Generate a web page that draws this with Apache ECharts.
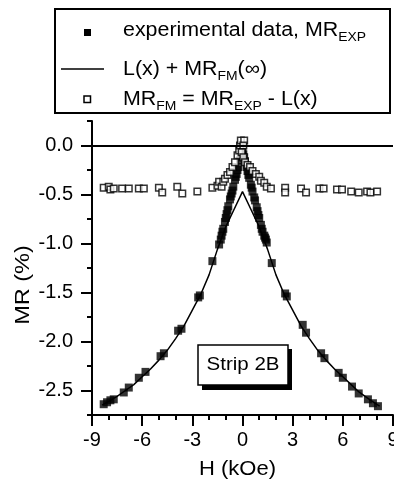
<!DOCTYPE html>
<html><head><meta charset="utf-8">
<script src="https://cdn.jsdelivr.net/npm/echarts@6/dist/echarts.min.js"></script>
<style>html,body{margin:0;padding:0;background:#fff}#c{width:394px;height:485px}</style>
</head><body><div id="c"></div>
<script>
// Experimental data MR_EXP (filled squares)
const expH  = [-8.3,-8.1,-7.9,-7.7,-7.1,-6.8,-6.2,-5.8,-4.9,-4.7,-3.85,-3.65,-2.65,-2.55,-1.8,-1.4,-1.3,-1.25,-1.2,-1.15,-1.05,-1.0,-0.95,-0.9,-0.85,-0.75,-0.7,-0.65,-0.6,-0.55,-0.45,-0.4,-0.35,-0.3,-0.25,-0.15,-0.1,-0.05,0.0,0.05,0.1,0.15,0.25,0.3,0.35,0.4,0.5,0.55,0.6,0.7,0.75,0.85,0.9,0.95,1.0,1.1,1.15,1.2,1.3,1.35,1.4,1.45,1.75,2.55,2.65,3.6,3.8,4.7,4.9,5.75,6.0,6.55,6.95,7.5,7.8,8.1];
const expMR = [-2.64,-2.62,-2.60,-2.59,-2.52,-2.47,-2.37,-2.31,-2.15,-2.12,-1.89,-1.87,-1.55,-1.53,-1.18,-1.01,-0.96,-0.92,-0.88,-0.85,-0.78,-0.74,-0.70,-0.66,-0.62,-0.55,-0.52,-0.49,-0.46,-0.42,-0.35,-0.32,-0.29,-0.25,-0.22,-0.15,-0.12,-0.09,-0.06,-0.09,-0.12,-0.16,-0.22,-0.26,-0.30,-0.33,-0.40,-0.43,-0.47,-0.53,-0.56,-0.63,-0.67,-0.71,-0.74,-0.81,-0.85,-0.88,-0.92,-0.94,-0.96,-0.99,-1.20,-1.51,-1.54,-1.83,-1.91,-2.12,-2.17,-2.32,-2.37,-2.46,-2.53,-2.59,-2.63,-2.66];
// Fit L(x) + MR_FM(inf) (solid line)
const lineH  = [-8.4,-8,-7.5,-7,-6.5,-6,-5.5,-5,-4.5,-4,-3.5,-3,-2.5,-2,-1.5,-1,-0.5,0,0.5,1,1.5,2,2.5,3,3.5,4,4.5,5,5.5,6,6.5,7,7.5,8,8.2];
const lineMR = [-2.65,-2.61,-2.56,-2.50,-2.44,-2.36,-2.28,-2.19,-2.09,-1.97,-1.84,-1.68,-1.52,-1.32,-1.06,-0.83,-0.65,-0.47,-0.65,-0.83,-1.06,-1.32,-1.52,-1.68,-1.84,-1.97,-2.09,-2.19,-2.28,-2.36,-2.44,-2.52,-2.58,-2.64,-2.66];
// MR_FM = MR_EXP - L(x) (open squares)
const fmH  = [-8.3,-8.0,-7.9,-7.7,-7.2,-6.8,-6.2,-5.9,-5.0,-4.8,-3.9,-3.6,-2.7,-1.8,-1.5,-1.4,-1.25,-1.15,-1.05,-0.9,-0.75,-0.6,-0.45,-0.3,-0.2,-0.15,-0.1,0.1,0.05,-0.05,0.05,0.15,0.3,0.45,0.6,0.8,1.0,1.1,1.3,1.45,1.7,2.55,2.55,3.5,3.8,4.6,4.85,5.65,5.95,6.5,6.95,7.45,7.65,8.05];
const fmMR = [-0.43,-0.42,-0.45,-0.44,-0.44,-0.44,-0.44,-0.44,-0.43,-0.48,-0.42,-0.49,-0.47,-0.43,-0.41,-0.37,-0.42,-0.37,-0.34,-0.30,-0.27,-0.22,-0.17,-0.10,-0.05,0.0,0.05,0.05,0.0,-0.07,-0.12,-0.17,-0.20,-0.22,-0.26,-0.29,-0.32,-0.36,-0.38,-0.42,-0.44,-0.43,-0.48,-0.44,-0.48,-0.44,-0.44,-0.45,-0.45,-0.47,-0.48,-0.47,-0.48,-0.47];
// Axis ticks
const xTicks = [-9,-6,-3,0,3,6,9];
const yMajor = [-2.5,-2.0,-1.5,-1.0,-0.5,0.0];
// Legend texts: [text, isSubscript]
const legendRows = [
  [['experimental data, MR',0],['EXP',1]],
  [['L(x) + MR',0],['FM',1],['(∞)',0]],
  [['MR',0],['FM',1],[' = MR',0],['EXP',1],[' - L(x)',0]]
];

const FONT = '"Liberation Sans", Arial, Helvetica, sans-serif';
const BLK = '#000';
const pairs = (a,b) => a.map((v,i)=>[v,b[i]]);

const mctx = document.createElement('canvas').getContext('2d');
function tw(str, font){ mctx.font = font; return mctx.measureText(str).width; }
const MAIN_FS = 20, SUB_FS = 13, SX = 1.07;
function legendRow(parts, x0, baseline){
  const els = []; let x = x0;
  parts.forEach(([t, sub]) => {
    const fs = sub ? SUB_FS : MAIN_FS;
    const f = fs + 'px ' + FONT;
    const bl = sub ? baseline + 4.5 : baseline;
    els.push({type:'text', z:101, x:x, y:bl - 0.3465*fs, scaleX:SX,
      style:{text:t, font:f, fill:BLK, align:'left', verticalAlign:'middle'}});
    x += tw(t, f) * SX;
  });
  return els;
}
const rowBaselines = [37.5, 76, 106];

const chart = echarts.init(document.getElementById('c'), null, {renderer:'canvas'});
const axisLineStyle = {color:BLK, width:2};
chart.setOption({
  animation:false,
  backgroundColor:'#fff',
  grid:{left:92,right:1,top:121,bottom:70,containLabel:false,outerBoundsMode:'none'},
  xAxis:{type:'value',min:xTicks[0],max:xTicks[xTicks.length-1],interval:3,
    axisLine:{show:true,onZero:false,lineStyle:axisLineStyle},
    axisTick:{show:true,length:11,lineStyle:axisLineStyle},
    minorTick:{show:true,splitNumber:3,length:5,lineStyle:axisLineStyle},
    axisLabel:{color:BLK,fontSize:20,fontFamily:FONT,margin:15,hideOverlap:false},
    splitLine:{show:false}},
  yAxis:[
    {type:'value',min:-2.75,max:0.25,interval:0.25,position:'left',
     axisLine:{show:true,onZero:false,lineStyle:axisLineStyle},
     axisTick:{show:true,length:11,customValues:yMajor,lineStyle:axisLineStyle},
     axisLabel:{customValues:yMajor,color:BLK,fontSize:20,fontFamily:FONT,margin:19,
       formatter:v=>Math.abs(v)<1e-9?'0.0':v.toFixed(1)},
     splitLine:{show:false}},
    {type:'value',min:-2.75,max:0.25,interval:0.25,position:'left',
     axisLine:{show:false,onZero:false},
     axisTick:{show:true,length:5,lineStyle:axisLineStyle},
     axisLabel:{show:false},splitLine:{show:false}}
  ],
  series:[
    {type:'line',name:'L(x) + MR_FM(∞)',yAxisIndex:0,data:pairs(lineH,lineMR),symbol:'none',
     lineStyle:{color:BLK,width:1.5},z:2,
     markLine:{silent:true,symbol:['none','none'],label:{show:false},
       lineStyle:{color:BLK,width:2,type:'solid'},data:[{yAxis:0}]}},
    {type:'scatter',name:'experimental data, MR_EXP',yAxisIndex:0,data:pairs(expH,expMR),
     symbol:'rect',symbolSize:8,itemStyle:{color:BLK},z:3},
    {type:'scatter',name:'MR_FM = MR_EXP - L(x)',yAxisIndex:0,data:pairs(fmH,fmMR),
     symbol:'rect',symbolSize:6.5,itemStyle:{color:'#fff',borderColor:BLK,borderWidth:1.5},z:4}
  ],
  graphic:[
    {type:'rect',z:100,shape:{x:55,y:9,width:335,height:104},style:{fill:'#fff',stroke:BLK,lineWidth:2}},
    {type:'rect',z:101,shape:{x:84,y:29,width:7,height:7},style:{fill:BLK}},
    {type:'line',z:101,shape:{x1:61,y1:69,x2:104,y2:69},style:{stroke:BLK,lineWidth:1.5}},
    {type:'rect',z:101,shape:{x:84,y:96,width:6.5,height:6.5},style:{fill:'#fff',stroke:BLK,lineWidth:1.5}},
    ...legendRow(legendRows[0], 123, rowBaselines[0]),
    ...legendRow(legendRows[1], 123, rowBaselines[1]),
    ...legendRow(legendRows[2], 123, rowBaselines[2]),
    {type:'text',z:101,x:23,y:285,rotation:Math.PI/2,scaleX:1.12,style:{text:'MR (%)',align:'center',verticalAlign:'middle',font:'21px ' + FONT,fill:BLK}},
    {type:'text',z:101,x:237.5,y:469,scaleX:1.1,style:{text:'H (kOe)',align:'center',verticalAlign:'middle',font:'20px ' + FONT,fill:BLK}},
    {type:'rect',z:100,shape:{x:202,y:349,width:90,height:41},style:{fill:BLK}},
    {type:'rect',z:101,shape:{x:198,y:345,width:90,height:40},style:{fill:'#fff',stroke:BLK,lineWidth:1.5}},
    {type:'text',z:102,x:243,y:365,scaleX:1.08,style:{text:'Strip 2B',align:'center',verticalAlign:'middle',font:'19px ' + FONT,fill:BLK}}
  ]
});
</script></body></html>
